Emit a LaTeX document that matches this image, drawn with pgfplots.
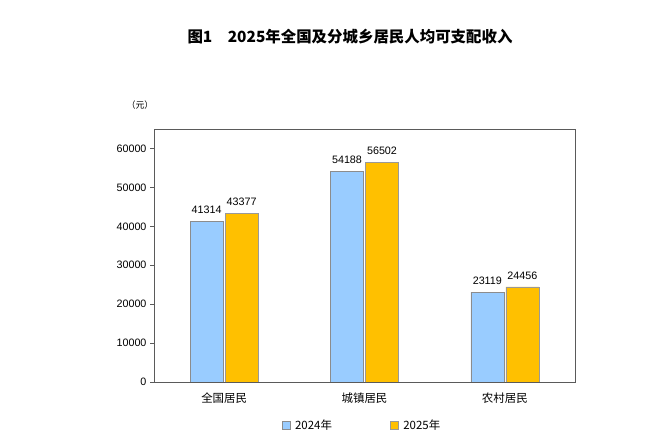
\documentclass[border=0pt]{standalone}
\usepackage{fontspec}
\setmainfont{Liberation Sans}
\newfontfamily\cjk{Noto Sans CJK SC}
\usepackage{pgfplots}
\pgfplotsset{compat=1.18}
\definecolor{bluebar}{RGB}{153,204,255}
\definecolor{goldbar}{RGB}{255,192,0}
\definecolor{axgray}{RGB}{90,90,90}

\begin{document}
\begin{tikzpicture}
  \path[use as bounding box, fill=white] (0,0) rectangle (648bp,447bp);
  \node[font=\cjk\bfseries\fontsize{15.5}{18}\selectfont] at (350bp,410bp)
    {图1\hspace{1em}2025年全国及分城乡居民人均可支配收入};
  \node[font=\cjk\fontsize{9}{11}\selectfont] at (140bp,342bp) {（元）};
  \begin{axis}[
      scale only axis,
      width=421bp, height=253bp,
      at={(154bp,65bp)}, anchor=south west,
      xmin=-0.5, xmax=2.5,
      ymin=0, ymax=65000,
      xtick={0,1,2},
      xticklabels={全国居民,城镇居民,农村居民},
      x tick label style={font=\cjk\fontsize{11.5}{13}\selectfont, yshift=-3bp},
      ytick={0,10000,...,60000},
      scaled y ticks=false,
      /pgf/number format/1000 sep={},
      /pgf/number format/assume math mode=true,
      y tick label style={font=\fontsize{10.8}{12}\selectfont},
      tick align=outside,
      major tick length=4bp,
      xtick style={draw=none},
      ytick style={axgray},
      ytick pos=left,
      axis line style={axgray},
      ybar, bar width=33bp,
      nodes near coords,
      every node near coord/.append style={font=\fontsize{10.8}{12}\selectfont, yshift=4bp},
      legend style={at={(0.494,-0.17)}, anchor=center, draw=none,
        font=\cjk\fontsize{11.5}{13}\selectfont,
        /tikz/every even column/.append style={column sep=56bp}},
      legend columns=2,
      legend image code/.code={\draw[#1] (0bp,-4bp) rectangle (8bp,4bp);
        \path (11bp,0bp);},
    ]
    \addplot[fill=bluebar, draw=black!45] coordinates {(0,41314) (1,54188) (2,23119)};
    \addplot[fill=goldbar, draw=black!40] coordinates {(0,43377) (1,56502) (2,24456)};
    \legend{2024年,2025年}
  \end{axis}
\end{tikzpicture}
\end{document}
